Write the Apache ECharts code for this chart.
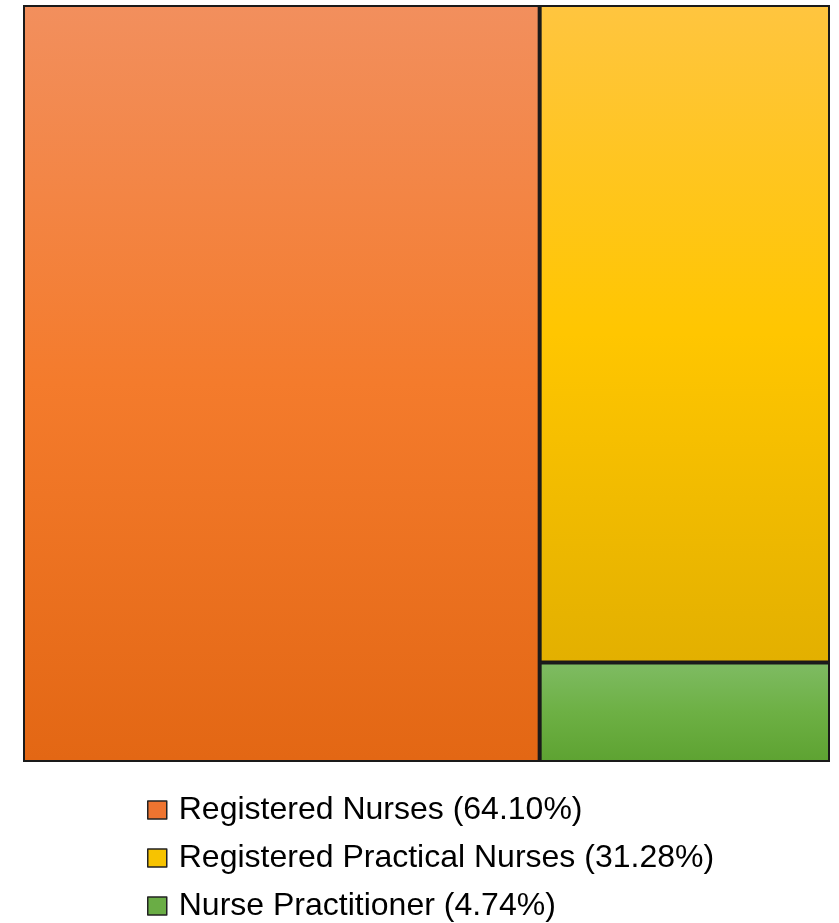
<!DOCTYPE html>
<html>
<head>
<meta charset="utf-8">
<script src="https://cdn.jsdelivr.net/npm/echarts@6/dist/echarts.min.js"></script>
<style>
html,body{margin:0;padding:0;background:#fff;}
#chart{width:839px;height:923px;}
</style>
</head>
<body>
<div id="chart"></div>
<script>
const categories = ['Registered Nurses', 'Registered Practical Nurses', 'Nurse Practitioner'];
const shares = [64.10, 31.28, 4.74];
const topColors = ['#F28F5D', '#FFC53F', '#7EBB62'];
const midColors = ['#F47B2C', '#FFC600', '#6DB044'];
const bottomColors = ['#E36714', '#E3B000', '#5EA332'];
const legendColors = ['#EE7430', '#F7C300', '#6AAD45'];

const labelOf = i => categories[i] + ' (' + shares[i].toFixed(2) + '%)';

const chart = echarts.init(document.getElementById('chart'), null, {renderer: 'canvas'});
chart.setOption({
  animation: false,
  legend: {
    orient: 'vertical',
    left: 147,
    top: 794,
    height: 129,
    padding: 0,
    itemWidth: 19,
    itemHeight: 18,
    itemGap: 16,
    icon: 'rect',
    selectedMode: false,
    itemStyle: {borderColor: '#222', borderWidth: 1.5},
    textStyle: {fontSize: 32, lineHeight: 32, color: '#000', fontFamily: 'Liberation Sans, Arial, sans-serif', padding: [0, 0, 0, 7]},
    data: categories.map((c, i) => labelOf(i))
  },
  series: [
    {
      type: 'treemap',
      left: 23,
      top: 5,
      width: 807,
      height: 757,
      squareRatio: 1,
      roam: false,
      nodeClick: false,
      breadcrumb: {show: false},
      label: {show: false},
      upperLabel: {show: false},
      silent: true,
      levels: [{itemStyle: {borderWidth: 0, gapWidth: 0, borderColor: '#222'}}],
      data: categories.map((c, i) => ({
        name: c,
        value: shares[i],
        itemStyle: {
          borderColor: '#1a1a1a',
          borderWidth: 2,
          color: new echarts.graphic.LinearGradient(0, 0, 0, 1, [
            {offset: 0, color: topColors[i]},
            {offset: 0.5, color: midColors[i]},
            {offset: 1, color: bottomColors[i]}
          ])
        }
      }))
    },
    {
      type: 'pie',
      radius: [0, 0],
      center: [-100, -100],
      silent: true,
      label: {show: false},
      labelLine: {show: false},
      data: categories.map((c, i) => ({
        name: labelOf(i),
        value: shares[i],
        itemStyle: {color: legendColors[i]}
      }))
    }
  ]
});
</script>
</body>
</html>
